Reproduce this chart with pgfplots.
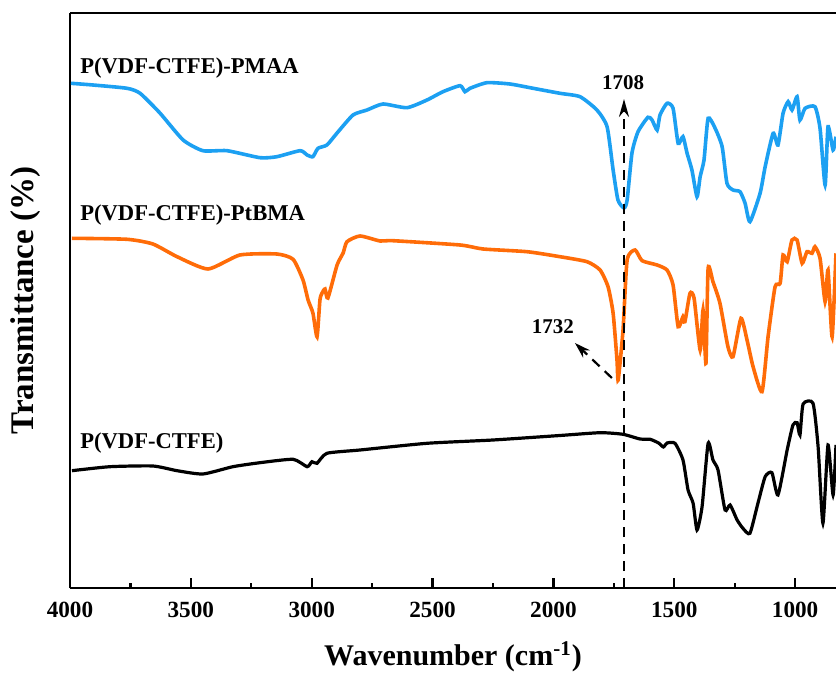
\documentclass[border=0pt]{standalone}
\usepackage{pgfplots}
\pgfplotsset{compat=1.18}
\usepackage{fontspec}
\setmainfont{Liberation Serif}
\usetikzlibrary{arrows.meta}
\definecolor{cblue}{RGB}{28,160,242}
\definecolor{corange}{RGB}{255,108,8}
\begin{document}
\begin{tikzpicture}
\clip (0,0) rectangle (418pt,337.5pt);
\begin{axis}[
  at={(35pt,43.5pt)}, anchor=south west,
  scale only axis, width=383pt, height=287.5pt,
  x dir=reverse, xmin=831, xmax=4000, ymin=0, ymax=575,
  axis y line*=left,
  axis line style={line width=1.3pt},
  xtick={1000,1500,2000,2500,3000,3500,4000},
  minor x tick num=1,
  xtick pos=bottom, tick align=inside,
  major tick length=5pt, minor tick length=2.5pt,
  every tick/.style={line width=1.1pt, black},
  ytick=\empty,
  /pgf/number format/1000 sep={},
  /pgf/number format/assume math mode=true,
  tick label style={font=\bfseries\fontsize{11.6}{14}\selectfont},
  xticklabel style={yshift=-3.5pt},
  xlabel={Wavenumber (cm\textsuperscript{-1})},
  ylabel={Transmittance (\%)},
  xlabel style={font=\bfseries\fontsize{15}{18}\selectfont, yshift=-5pt},
  ylabel style={font=\bfseries\fontsize{16.5}{19}\selectfont,
    at={(axis description cs:-0.0574,0.5)}, anchor=center},
  clip=true,
]
% P(VDF-CTFE)-PMAA
\addplot[cblue, line width=1.8pt, smooth, tension=0.35] coordinates {
(3996,504.7)(3905,503)(3764,499.7)(3710,494.7)(3628,475)(3532,448)(3450,437.3)(3350,437.3)
(3214,430.3)(3144,431.3)(3048,437.3)(3019,433)(2995,431.3)(2974,439.7)(2937,443)(2895,455)
(2829,473)(2771,478)(2705,484)(2606,480.3)(2523,488)(2457,496.3)(2386,502.3)(2366,496.3)
(2345,499.7)(2275,505.3)(2180,504)(2084,499.7)(1973,494.7)(1890,491.3)(1820,478)(1778,461.3)
(1753,418)(1733,388)(1708,380)(1695,388)(1675,435)(1650,456.3)(1609,470.7)(1592,468)
(1571,458)(1559,473)(1530,484.7)(1505,479.7)(1484,444.7)(1464,451.3)(1447,434.7)(1427,418)
(1406,391.3)(1393,411.3)(1377,428)(1360,469.7)(1331,459.7)(1302,441.3)(1282,404.7)(1257,398)
(1228,396.3)(1207,384.7)(1187,366.3)(1145,394.7)(1124,421.3)(1091,454.7)(1071,443)(1050,474.7)
(1029,486.3)(1013,478)(992,491.3)(980,468)(959,479.7)(918,481.3)(897,459.7)(876,403)
(864,461.3)(843,438)(831,451.3)
};
% P(VDF-CTFE)-PtBMA
\addplot[corange, line width=1.8pt, smooth, tension=0.35] coordinates {
(3992,349.7)(3764,348.7)(3657,344)(3557,331.3)(3429,319)(3297,333)(3144,334)(3077,328.7)
(3036,308)(3015,288)(2995,275)(2978,251.3)(2966,288)(2957,295)(2945,299)(2933,290)
(2895,323)(2870,335)(2854,346.3)(2800,352)(2717,347)(2664,347.3)(2386,343)(2291,339)
(2109,336.3)(1973,331.3)(1861,326.3)(1807,318)(1774,301.3)(1753,274.7)(1737,228)(1732,208)
(1712,258)(1695,328)(1662,338)(1633,327.3)(1571,323)(1530,318)(1505,303)(1484,261.3)
(1464,271.3)(1456,266.3)(1435,294.7)(1418,289.7)(1393,238)(1381,278)(1369,224.7)(1360,319.7)
(1340,306.3)(1311,284.7)(1278,241.3)(1257,231.3)(1224,269.7)(1199,248)(1174,221.3)(1137,196.3)
(1112,251.3)(1083,301.3)(1062,304.7)(1050,333)(1033,326.3)(1013,348)(992,348)(971,324.7)
(951,336.3)(930,334.7)(918,341.3)(897,329.7)(876,286.3)(864,318)(847,251.3)(831,334.7)
};
% P(VDF-CTFE)
\addplot[black, line width=1.6pt, smooth, tension=0.35] coordinates {
(3992,117.3)(3835,121.3)(3657,122)(3557,117.3)(3450,114)(3326,121.3)(3214,125.3)(3077,128.7)
(3019,121.3)(2999,126.3)(2978,124.7)(2937,134.7)(2800,138)(2523,144.7)(2250,148)(1973,152.5)
(1807,155.3)(1712,153.7)(1642,149)(1600,148.7)(1565,145)(1545,141)(1530,145)(1497,144.7)(1464,128)
(1443,98)(1422,84.7)(1406,58)(1385,81.3)(1360,144.7)(1340,128)(1319,118)(1290,78)
(1269,83)(1240,68)(1216,59.7)(1187,54.7)(1154,84.7)(1124,111.3)(1096,115.3)(1071,93)
(1033,138)(1009,163)(992,165.3)(980,153)(967,184)(926,184.7)(905,141.3)(885,64.7)
(864,143)(843,93)(831,143)
};
% annotations
\draw[line width=1.1pt, dash pattern=on 5pt off 3.5pt, -{Stealth[length=9pt,width=5pt]}]
  (axis cs:1708,0) -- (axis cs:1708,489);
\node[font=\bfseries\fontsize{10.5}{12}\selectfont] at (axis cs:1712,505) {1708};
\node[font=\bfseries\fontsize{10.5}{12}\selectfont] at (axis cs:2002,261) {1732};
\draw[line width=1.1pt, dash pattern=on 5pt off 3.5pt, -{Stealth[length=8pt,width=5pt]}]
  (axis cs:1758,210) -- (axis cs:1911,245);
\node[anchor=west, inner sep=0pt, font=\bfseries\fontsize{11.3}{13}\selectfont] at (axis cs:3959,520) {P(VDF-CTFE)-PMAA};
\node[anchor=west, inner sep=0pt, font=\bfseries\fontsize{11.3}{13}\selectfont] at (axis cs:3959,373) {P(VDF-CTFE)-PtBMA};
\node[anchor=west, inner sep=0pt, font=\bfseries\fontsize{11.3}{13}\selectfont] at (axis cs:3959,145) {P(VDF-CTFE)};
\end{axis}
\end{tikzpicture}
\end{document}
